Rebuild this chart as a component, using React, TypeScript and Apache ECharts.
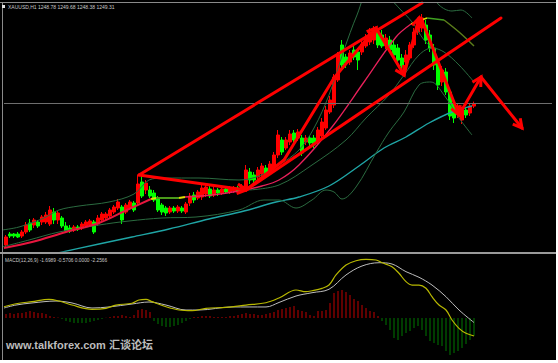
import React, { useEffect, useRef } from 'react';
import * as echarts from 'echarts';

// ---------- DATA ----------
const bars = Array.from({ length: 137 }, (_, i) => `H${i + 1}`);

const open = [
  1221.0, 1223.2, 1223.2, 1223.2, 1222.8, 1223.6, 1225.4, 1225.0, 1225.6, 1225.6,
  1225.6, 1225.2, 1227.6, 1226.0, 1226.4, 1224.8, 1224.4, 1224.0, 1224.6, 1224.4,
  1224.8, 1225.0, 1225.6, 1225.2, 1226.0, 1226.4, 1226.8, 1227.6, 1228.4, 1228.6,
  1227.6, 1228.4, 1229.4, 1229.4, 1233.6, 1232.0, 1232.0, 1231.4, 1230.4, 1229.0,
  1228.4, 1227.6, 1228.4, 1227.8, 1228.4, 1227.6, 1229.4, 1231.0, 1230.4, 1230.6,
  1231.2, 1232.2, 1231.0, 1232.0, 1231.4, 1232.2, 1231.6, 1231.8, 1232.4, 1232.0,
  1232.4, 1235.6, 1235.0, 1234.6, 1235.2, 1236.4, 1235.6, 1236.4, 1239.0, 1242.0,
  1240.4, 1241.6, 1243.4, 1242.4, 1242.4, 1241.6, 1242.4, 1242.4, 1241.6, 1242.8,
  1244.4, 1247.6, 1249.0, 1254.0, 1261.0, 1258.6, 1257.6, 1260.0, 1259.6, 1259.6,
  1260.8, 1261.6, 1262.0, 1263.6, 1263.0, 1260.8, 1262.0, 1261.0, 1260.4, 1258.4,
  1257.6, 1258.4, 1261.0, 1263.6, 1264.4, 1265.0, 1263.0, 1260.4, 1257.6, 1253.6,
  1255.6, 1251.6, 1249.4, 1247.4, 1246.0, 1248.0, 1247.4, 1248.78,
];
const close = [
  1222.6, 1222.8, 1222.8, 1222.6, 1223.6, 1225.0, 1224.0, 1226.0, 1224.8, 1226.6,
  1227.0, 1228.0, 1226.0, 1227.4, 1224.8, 1223.8, 1223.8, 1224.6, 1224.2, 1225.2,
  1225.6, 1225.8, 1223.6, 1226.4, 1227.2, 1227.2, 1228.0, 1228.6, 1229.6, 1226.0,
  1229.0, 1229.6, 1228.0, 1233.2, 1230.8, 1233.4, 1230.8, 1230.0, 1228.0, 1227.6,
  1227.4, 1228.4, 1227.8, 1228.6, 1227.8, 1229.2, 1230.8, 1230.0, 1231.6, 1232.4,
  1232.6, 1230.8, 1232.0, 1231.4, 1232.2, 1231.6, 1232.4, 1232.4, 1231.8, 1232.8,
  1236.0, 1234.0, 1234.0, 1236.0, 1236.8, 1235.0, 1237.2, 1239.0, 1243.0, 1239.6,
  1242.0, 1243.2, 1242.0, 1243.6, 1239.4, 1242.4, 1241.4, 1241.0, 1244.0, 1245.6,
  1248.0, 1250.0, 1254.6, 1259.0, 1257.0, 1257.4, 1259.4, 1258.6, 1258.0, 1261.2,
  1262.4, 1263.6, 1264.0, 1261.0, 1260.8, 1262.4, 1260.0, 1259.0, 1258.0, 1256.8,
  1259.0, 1261.0, 1263.6, 1265.6, 1266.4, 1262.0, 1260.4, 1257.0, 1253.0, 1256.0,
  1251.6, 1246.8, 1246.4, 1248.8, 1248.0, 1247.0, 1248.8, 1249.31,
];
const low = [
  1220.6, 1222.4, 1222.4, 1222.4, 1222.4, 1223.2, 1223.6, 1224.4, 1224.4, 1225.0,
  1225.2, 1224.8, 1225.2, 1225.2, 1224.4, 1223.4, 1223.4, 1223.6, 1223.8, 1224.0,
  1224.4, 1224.6, 1223.2, 1224.8, 1225.6, 1226.0, 1226.4, 1227.2, 1228.0, 1225.2,
  1227.2, 1228.0, 1227.6, 1229.0, 1230.4, 1231.2, 1230.4, 1229.6, 1227.6, 1227.0,
  1226.8, 1227.2, 1227.4, 1227.4, 1227.4, 1227.2, 1228.8, 1229.4, 1230.0, 1230.0,
  1230.6, 1230.4, 1230.6, 1230.8, 1231.0, 1231.2, 1231.2, 1231.4, 1231.4, 1231.6,
  1232.0, 1233.2, 1233.4, 1234.0, 1234.6, 1234.4, 1235.0, 1235.8, 1238.4, 1239.0,
  1240.0, 1241.0, 1241.4, 1241.8, 1238.8, 1241.0, 1240.8, 1240.4, 1241.2, 1242.4,
  1244.0, 1247.2, 1248.4, 1253.6, 1256.4, 1256.4, 1257.0, 1258.0, 1256.0, 1259.0,
  1260.4, 1261.0, 1261.2, 1260.4, 1260.4, 1260.2, 1259.4, 1258.4, 1257.4, 1256.0,
  1256.8, 1258.0, 1260.4, 1263.0, 1263.6, 1261.2, 1259.6, 1256.0, 1252.0, 1252.8,
  1251.0, 1246.0, 1245.4, 1246.4, 1245.2, 1246.4, 1246.8, 1248.38,
];
const high = [
  1223.0, 1223.6, 1223.4, 1223.6, 1224.0, 1225.6, 1226.2, 1226.4, 1226.0, 1227.0,
  1227.6, 1228.8, 1228.4, 1227.8, 1226.8, 1225.6, 1225.0, 1225.0, 1225.0, 1225.6,
  1226.0, 1226.2, 1226.0, 1227.0, 1227.6, 1227.6, 1228.4, 1229.0, 1230.2, 1229.0,
  1229.4, 1230.0, 1229.8, 1235.0, 1235.6, 1234.0, 1232.8, 1232.0, 1230.8, 1229.4,
  1228.8, 1228.8, 1228.8, 1229.0, 1228.8, 1229.6, 1231.4, 1231.6, 1232.0, 1233.0,
  1233.2, 1232.8, 1232.6, 1232.4, 1232.6, 1232.6, 1232.8, 1232.8, 1232.8, 1233.2,
  1237.0, 1236.4, 1235.6, 1236.6, 1237.4, 1237.0, 1237.8, 1239.6, 1244.0, 1242.6,
  1242.6, 1244.0, 1244.0, 1244.2, 1243.0, 1243.0, 1242.8, 1243.0, 1244.6, 1246.4,
  1248.8, 1250.8, 1255.2, 1259.6, 1262.0, 1259.2, 1260.0, 1260.8, 1260.4, 1262.0,
  1263.2, 1264.4, 1264.8, 1264.4, 1264.0, 1263.2, 1262.8, 1262.0, 1261.2, 1259.2,
  1260.0, 1261.6, 1264.4, 1266.4, 1267.2, 1266.0, 1264.0, 1261.2, 1258.4, 1256.8,
  1256.4, 1252.4, 1250.0, 1249.2, 1248.6, 1248.4, 1249.2, 1249.68,
];

// colour-changing moving average, in [bar, price] points
const maRise1 = [[-0.5, 1220.4], [6.5, 1221.6], [15, 1223.6], [23.25, 1225.4], [30.75, 1228.2], [36.25, 1230.2]];
const maTurn1 = [[36.25, 1230.2], [37.5, 1230.4]];
const maFlat1 = [[37.5, 1230.4], [40.5, 1230.4], [43.25, 1230.4]];
const maTurn2 = [[43.25, 1230.4], [44.75, 1230.6]];
const maRise2 = [[44.75, 1230.6], [51.5, 1231.0], [58.25, 1231.8], [64, 1232.8], [68.25, 1234.0], [73.25, 1237.0],
  [81.5, 1244.6], [89.5, 1253.6], [97.5, 1262.6], [101.25, 1265.2]];
const maTurn3 = [[101.25, 1265.2], [105.25, 1266.4]];
const maFlat2 = [[105.25, 1266.4], [109.5, 1266.0]];
const maFall = [[109.5, 1266.0], [113.25, 1263.6], [117, 1260.8]];

// envelope bands
const bandUpper = [[-1, 1224.0], [3.25, 1224.6], [9.5, 1226.4], [13.25, 1228.0], [18.25, 1228.8], [25.75, 1229.6],
  [32, 1231.2], [35.75, 1234.0], [39.5, 1234.4], [48.25, 1234.4], [58.25, 1234.0], [63.25, 1234.8],
  [68.25, 1237.0], [73.25, 1240.0], [77, 1244.4], [80.75, 1251.0], [84.5, 1260.0], [87.75, 1267.0],
  [91.25, 1273.0], [99.5, 1275.0], [103.25, 1274.0], [108.25, 1269.0], [111.5, 1267.8], [113.75, 1268.0], [116.5, 1266.4]];
const bandMiddle = [[60.75, 1232.0], [68.25, 1233.0], [76.5, 1237.0], [85, 1242.0], [90, 1246.4], [95.75, 1251.0],
  [99.5, 1255.0], [103.25, 1259.0], [106.5, 1260.4], [109.5, 1259.6], [113.25, 1257.0], [117, 1253.6]];
const bandFromTop = [[95.25, 1271.0], [98.25, 1268.4], [101.5, 1265.6], [104.5, 1262.0], [106.5, 1260.4]];
const bandLower = [[-1, 1220.6], [5.75, 1222.0], [13.25, 1223.6], [23.25, 1225.0], [30.75, 1225.8], [39, 1226.4],
  [47.5, 1226.6], [58.25, 1228.0], [64.5, 1230.0], [68.25, 1230.0], [72.5, 1228.4], [76.5, 1230.0], [80, 1232.0],
  [82, 1231.6], [84, 1230.2], [87.5, 1232.6], [92.5, 1239.4], [95.75, 1243.6], [99.5, 1247.6], [103.25, 1253.0],
  [106.25, 1253.6], [109.5, 1251.0], [113.25, 1246.4], [116.5, 1243.0]];
const slowMa = [[9.5, 1218.8], [23.25, 1221.2], [31.5, 1222.6], [40.75, 1224.2], [50.75, 1226.2], [59.5, 1227.8],
  [67.5, 1229.6], [73.25, 1230.6], [80.75, 1232.8], [88.25, 1236.8], [94.5, 1240.4], [100, 1242.6],
  [105.75, 1245.4], [111.5, 1247.6], [116.5, 1248.8]];

// hand-drawn trend lines: [bar1, price1, bar2, price2, arrow]
const drawings = [
  [33.25, 1235.0, 104, 1269.4, 0],
  [60, 1232.0, 123.75, 1266.4, 0],
  [33.25, 1235.0, 60, 1232.0, 1],
  [60, 1232.0, 69.5, 1238.0, 0],
  [69.5, 1238.0, 82, 1254.4, 0],
  [82, 1254.4, 92.5, 1264.4, 1],
  [92.5, 1264.4, 99.5, 1255.0, 1],
  [99.5, 1255.0, 103.25, 1266.4, 1],
  [103.75, 1266.4, 113.25, 1247.0, 1],
  [113.25, 1247.0, 118.75, 1254.6, 1],
  [118.75, 1254.6, 129, 1244.4, 1],
];

// MACD panel
const macdHist = [
  0.5, 0.62, 0.5, 0.62, 0.62, 0.75, 0.88, 0.75, 0.62, 0.62, 0.5,
  0.25, 0.12, 0.06,
  -0.12, -0.38, -0.5, -0.62, -0.62, -0.62, -0.62, -0.5, -0.38, -0.25, -0.12,
  0.04,
  0.12, 0.25, 0.25, 0.38, 0.25, 0.12,
  0.38, 1.0, 1.12, 1.0, 0.75,
  -0.38, -0.75, -1.0, -1.12, -1.12, -1.0, -0.88, -0.62, -0.38,
  -0.12,
  0.12, 0.12, 0.25, 0.25, 0.25, 0.12, 0.12, 0.12, 0.12, 0.25, 0.25, 0.38, 0.5, 0.62, 0.5, 0.5, 0.38, 0.38, 0.5, 0.62, 0.75,
  1.0,
  1.12, 1.25, 1.38, 1.5, 1.0, 0.88, 0.75, 0.38, 0.25, 0.88, 0.88, 1.0, 1.88, 3.12, 3.38, 3.5, 3.25, 2.88, 2.38, 2.12, 1.62, 1.25, 0.88, 0.75, 0.25,
  -0.38, -0.88, -1.5, -2.5, -2.75, -2.25, -1.88, -1.62, -1.25, -1.0, -1.5, -2.25, -2.88, -3.12, -3.38, -3.5, -4.12, -4.62, -4.38, -4.12, -3.75, -3.25, -2.75, -2.2566,
];
const macdDif = [[-0.5, 1.41], [3.25, 1.84], [6.5, 2.04], [10.75, 2.34], [13.25, 2.12], [16.5, 1.62], [21.5, 1.09],
  [25, 1.21], [27.5, 1.62], [31.5, 1.84], [33.25, 2.25], [35, 2.34], [36.5, 2.04], [40, 1.41], [43.25, 1.0],
  [46.5, 0.91], [50, 1.21], [55, 1.34], [60, 1.62], [65, 1.91], [68.25, 2.5], [72.5, 3.5], [75, 3.29],
  [76.5, 3.41], [79, 3.71], [80.75, 4.12], [82.5, 5.38], [85, 6.62], [87.5, 7.16], [90, 7.34], [92.5, 7.25],
  [94, 6.91], [96.5, 6.41], [98.25, 5.59], [100, 4.54], [101.5, 4.12], [103.25, 4.12], [105, 3.71],
  [106.5, 2.66], [108.25, 1.62], [110, 1.0], [111.5, -0.25], [113.25, -1.29], [115, -1.91], [117, -2.25]];
const macdDea = [[-0.5, 1.25], [2.5, 1.62], [6.5, 1.88], [12.5, 2.12], [16.5, 1.88], [21.5, 1.25], [25.75, 1.38],
  [31.5, 1.75], [35.75, 2.0], [40, 1.62], [45, 1.0], [48.25, 1.0], [56.5, 1.38], [65, 1.38], [68.25, 1.94],
  [72.5, 2.75], [76.5, 3.16], [80.75, 3.59], [85, 5.38], [89, 6.5], [93.25, 6.91], [96.5, 6.75], [100, 5.79],
  [103.25, 5.09], [106.5, 4.12], [110, 2.66], [113.25, 1.0], [117, -0.57]];

const titleText = 'XAUUSD,H1 1248.78 1249.68 1248.38 1249.31';
const macdText = 'MACD(12,26,9) -1.6989 -0.5706 0.0000 -2.2566';
const watermark = 'www.talkforex.com 汇谈论坛';

// ---------- CHART ----------
function lineSeries(name: string, data: number[][], color: string, width: number, xi: number, yi: number, z = 3) {
  return {
    name, type: 'line', data, xAxisIndex: xi, yAxisIndex: yi, smooth: 0.35,
    showSymbol: false, symbol: 'none', z, silent: true,
    lineStyle: { color, width },
  };
}

export default function App() {
  const ref = useRef<HTMLDivElement>(null);
  useEffect(() => {
    document.body.style.margin = '0';
    const chart = echarts.init(ref.current!, null, { renderer: 'svg' });
    const candles = bars.map((_, i) =>
      i < open.length ? [open[i], close[i], low[i], high[i]] : '-');
    const hist = bars.map((_, i) =>
      i < macdHist.length
        ? { value: macdHist[i], itemStyle: { color: macdHist[i] >= 0 ? '#c00000' : '#007800' } }
        : '-');
    const last = close[close.length - 1];
    chart.setOption({
      animation: false,
      backgroundColor: '#000000',
      grid: [
        { left: 4, top: 3, width: 548, height: 248 },
        { left: 4, top: 256, width: 548, height: 102 },
      ],
      xAxis: [
        { type: 'category', gridIndex: 0, data: bars, show: false },
        { type: 'category', gridIndex: 1, data: bars, show: false },
        { type: 'value', gridIndex: 0, min: -0.5, max: 136.5, show: false },
        { type: 'value', gridIndex: 1, min: -0.5, max: 136.5, show: false },
      ],
      yAxis: [
        { type: 'value', gridIndex: 0, min: 1219.8, max: 1269.4, show: false },
        { type: 'value', gridIndex: 1, min: -5, max: 7.75, show: false },
      ],
      series: [
        {
          type: 'candlestick', data: candles, xAxisIndex: 0, yAxisIndex: 0, barWidth: 3, z: 2,
          itemStyle: { color: '#ff0000', color0: '#00ff00', borderColor: '#ff0000', borderColor0: '#00ff00', borderWidth: 1 },
          markLine: {
            silent: true, symbol: ['none', 'none'], label: { show: false },
            lineStyle: { color: '#6e6e6e', type: 'solid', width: 1 },
            data: [{ yAxis: last }],
          },
        },
        lineSeries('slow', slowMa, '#1fa5a5', 1.4, 2, 0),
        lineSeries('bandUpper', bandUpper, '#2b6b40', 1, 2, 0),
        lineSeries('bandMiddle', bandMiddle, '#2b6b40', 1, 2, 0),
        lineSeries('bandTop', bandFromTop, '#2b6b40', 1, 2, 0),
        lineSeries('bandLower', bandLower, '#2b6b40', 1, 2, 0),
        lineSeries('maRise1', maRise1, '#e8163e', 2, 2, 0, 4),
        lineSeries('maTurn1', maTurn1, '#e0e000', 2, 2, 0, 4),
        lineSeries('maFlat1', maFlat1, '#4a9a1a', 2, 2, 0, 4),
        lineSeries('maTurn2', maTurn2, '#e0e000', 2, 2, 0, 4),
        lineSeries('maRise2', maRise2, '#e8205a', 1.3, 2, 0, 4),
        lineSeries('maTurn3', maTurn3, '#e0e000', 1.5, 2, 0, 4),
        lineSeries('maFlat2', maFlat2, '#3fa020', 1.5, 2, 0, 4),
        lineSeries('maFall', maFall, '#5b7d1a', 1.5, 2, 0, 4),
        {
          type: 'custom', xAxisIndex: 2, yAxisIndex: 0, z: 6, silent: true,
          dimensions: ['x1', 'y1', 'x2', 'y2', 'arrow'],
          encode: { x: ['x1', 'x2'], y: ['y1', 'y2'] },
          data: drawings,
          renderItem: (params: any, api: any) => {
            const a = api.coord([api.value(0), api.value(1)]);
            const b = api.coord([api.value(2), api.value(3)]);
            const children: any[] = [{
              type: 'line',
              shape: { x1: a[0], y1: a[1], x2: b[0], y2: b[1] },
              style: { stroke: '#ff0000', lineWidth: 3, lineCap: 'round' },
            }];
            if (api.value(4)) {
              const ang = Math.atan2(b[1] - a[1], b[0] - a[0]);
              const L = 10, s = 0.5;
              children.push({
                type: 'polyline',
                shape: {
                  points: [
                    [b[0] - L * Math.cos(ang - s), b[1] - L * Math.sin(ang - s)],
                    [b[0], b[1]],
                    [b[0] - L * Math.cos(ang + s), b[1] - L * Math.sin(ang + s)],
                  ],
                },
                style: { stroke: '#ff0000', fill: null, lineWidth: 3, lineJoin: 'miter' },
              });
            }
            return { type: 'group', children };
          },
        },
        {
          type: 'bar', data: hist, xAxisIndex: 1, yAxisIndex: 1, barWidth: 1, silent: true,
        },
        lineSeries('dea', macdDea, '#bdbdbd', 1, 3, 1),
        lineSeries('dif', macdDif, '#b8b800', 1.2, 3, 1),
      ],
      graphic: [
        { type: 'rect', z: 20, shape: { x: 0, y: 2, width: 556, height: 1 }, style: { fill: '#8a8a8a' } },
        { type: 'rect', z: 20, shape: { x: 2, y: 2, width: 1, height: 358 }, style: { fill: '#8a8a8a' } },
        { type: 'rect', z: 20, shape: { x: 0, y: 252, width: 556, height: 2 }, style: { fill: '#9a9a9a' } },
        { type: 'rect', z: 20, shape: { x: 2, y: 5, width: 3, height: 3 }, style: { fill: '#e0e0e0' } },
        {
          type: 'text', z: 20, x: 8, y: 4,
          style: { text: titleText, fill: '#c8c8c8', fontSize: 5, fontFamily: 'Liberation Sans', textVerticalAlign: 'top' },
        },
        {
          type: 'text', z: 20, x: 5, y: 258,
          style: { text: macdText, fill: '#c8c8c8', fontSize: 4.8, fontFamily: 'Liberation Sans', textVerticalAlign: 'top' },
        },
        {
          type: 'text', z: 20, x: 6, y: 339,
          style: {
            text: watermark, fill: '#bcbcbc', fontSize: 11, fontWeight: 'bold',
            fontFamily: 'Liberation Sans, "Noto Sans CJK SC"', textVerticalAlign: 'top',
          },
        },
      ],
    });
    return () => chart.dispose();
  }, []);
  return (
    <div style={{ width: 558, height: 363, background: '#ffffff', position: 'relative' }}>
      <div ref={ref} style={{ width: 556, height: 360, position: 'absolute', left: 0, top: 0 }} />
    </div>
  );
}
